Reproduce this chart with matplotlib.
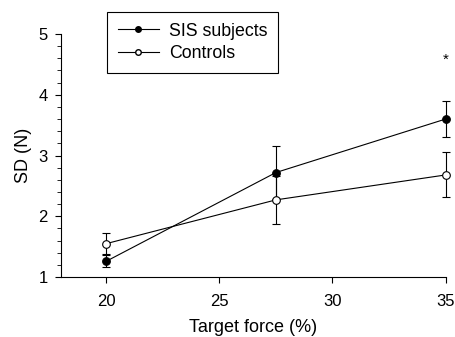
import matplotlib.pyplot as plt
from matplotlib.lines import Line2D
from matplotlib.ticker import MultipleLocator

plt.rcParams['font.family'] = ['Liberation Sans', 'DejaVu Sans']

force = [20, 27.5, 35]
sisMean = [1.26, 2.72, 3.60]
sisErr = [0.10, 0.44, 0.30]
ctrlMean = [1.55, 2.27, 2.68]
ctrlErr = [0.17, 0.40, 0.37]
starX, starY = 35, 4.57

fig = plt.figure(figsize=(4.56, 3.37), dpi=100)
ax = fig.add_axes([0.134, 0.178, 0.843, 0.721])

for mean, err, fc, z in [(sisMean, sisErr, 'black', 3), (ctrlMean, ctrlErr, 'white', 4)]:
    _, caps, bars = ax.errorbar(force, mean, yerr=err, color='black', lw=0.8,
                                marker='o', ms=5.5, mfc=fc, mec='black', mew=0.8,
                                capsize=3, elinewidth=0.8, capthick=0.8, zorder=z)
    for art in list(caps) + list(bars):
        art.set_clip_on(False)
    for ln in ax.lines:
        ln.set_clip_on(False)

ax.text(starX, starY, '*', ha='center', va='center', fontsize=11)

ax.set_xlim(18, 35)
ax.set_ylim(1, 5)
ax.set_xticks([20, 25, 30, 35])
ax.yaxis.set_major_locator(MultipleLocator(1))
ax.yaxis.set_minor_locator(MultipleLocator(0.2))
ax.tick_params(which='major', length=4.5, width=0.8, labelsize=12)
ax.tick_params(which='minor', length=3, width=0.6)
ax.tick_params(axis='x', pad=8)
ax.tick_params(axis='y', pad=5)
for s in ['top', 'right']:
    ax.spines[s].set_visible(False)
ax.set_xlabel('Target force (%)', fontsize=13, labelpad=7)
ax.set_ylabel('SD (N)', fontsize=13, labelpad=5)

handles = [Line2D([], [], color='black', lw=0.8, marker='o', ms=4, mfc='black', mec='black'),
           Line2D([], [], color='black', lw=0.8, marker='o', ms=4, mfc='white', mec='black')]
leg = fig.legend(handles, ['SIS subjects', 'Controls'], loc='upper left',
                 bbox_to_anchor=(107 / 456, 1 - 12 / 337), bbox_transform=fig.transFigure,
                 borderaxespad=0, fontsize=12.8, frameon=True, fancybox=False,
                 edgecolor='black', handlelength=2.3, handletextpad=0.6,
                 borderpad=0.6, labelspacing=0.3, framealpha=1)
leg.get_frame().set_linewidth(0.8)

fig.savefig('out.png', dpi=100)
